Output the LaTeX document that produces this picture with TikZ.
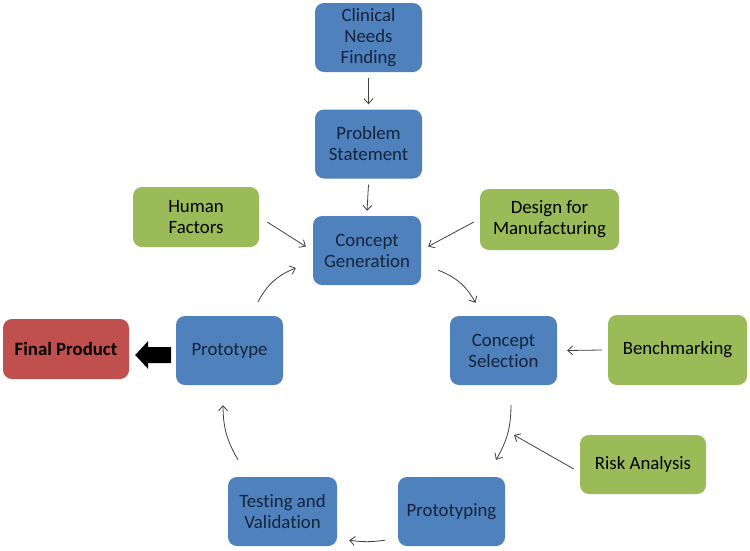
\documentclass[tikz,border=0pt]{standalone}
\usepackage{fontspec}
\setmainfont[Ligatures=NoCommon]{Carlito}
\usetikzlibrary{arrows.meta,calc}
\definecolor{bbox}{HTML}{4F81BD}
\definecolor{gbox}{HTML}{9BBB59}
\definecolor{rbox}{HTML}{C0504D}
\definecolor{btext}{HTML}{15243A}
\definecolor{arrgray}{HTML}{404040}
\begin{document}
\begin{tikzpicture}[x=1pt,y=-1pt,
  base/.style={rounded corners=9pt, align=center, inner sep=2pt, font=\fontsize{18.8}{21}\selectfont},
  bluebox/.style={base, fill=bbox, text=btext, minimum width=107pt, minimum height=69pt},
  greenbox/.style={base, fill=gbox, text=black},
  redbox/.style={base, fill=rbox, text=black},
  arr/.style={draw=arrgray, line width=0.8pt, -{Straight Barb[length=5pt,width=9pt]}}]
\fill[white] (0,0) rectangle (750,550);
\useasboundingbox (0,0) rectangle (750,550);

\node[bluebox] (cnf) at (368.5,37.5) {Clinical\\Needs\\Finding};
\node[bluebox] (ps) at (368.5,144) {Problem\\Statement};
\node[bluebox, minimum width=108pt] (cg) at (367,250.5) {Concept\\Generation};
\node[greenbox, minimum width=126pt, minimum height=60pt] (hf) at (196,217) {Human\\Factors};
\node[greenbox, minimum width=139pt, minimum height=61pt] (dfm) at (549.5,219.5) {Design for\\Manufacturing};
\node[bluebox] (cs) at (503.5,350.5) {Concept\\Selection};
\node[greenbox, minimum width=139pt, minimum height=70pt] (bm) at (677.5,350) {Benchmarking};
\node[bluebox] (proto) at (229.5,350.5) {Prototype};
\node[redbox, minimum width=126pt, minimum height=60pt, font=\fontsize{18.8}{21}\selectfont\bfseries] (fp) at (66,349) {Final Product};
\node[greenbox, minimum width=126pt, minimum height=59pt] (ra) at (643,464.5) {Risk Analysis};
\node[bluebox] (pt) at (451.5,511.5) {Prototyping};
\node[bluebox, minimum width=109pt] (tv) at (282.5,511.5) {Testing and\\Validation};

\coordinate (rtip) at (514,435);

\draw[arr] ($(cnf.south)+(0,6)$) -- ($(ps.north)+(0,-5)$);
\draw[arr] ($(ps.south)+(0,6)$) -- ($(cg.north)+(0,-5)$);
\draw[arr] ($(hf.east)+(8,5)$) -- ($(cg.west)+(-7,-4)$);
\draw[arr] ($(dfm.west)+(-6,2.5)$) -- ($(cg.east)+(7,-4)$);
\draw[arr] ($(cg.south east)+(17,-15)$) to[bend left=20] ($(cs.north)+(-28,-13)$);
\draw[arr] ($(bm.west)+(-6,0)$) -- ($(cs.east)+(10,0)$);
\draw[arr] ($(cs.south)+(7.5,20)$) to[bend left=15] ($(pt.north)+(44.5,-17)$);
\draw[arr] ($(ra.west)+(-6,4.5)$) -- (rtip);
\draw[arr] ($(pt.south west)+(-13,-6)$) to[bend left=8] ($(tv.south east)+(12,-6)$);
\draw[arr] ($(tv.north)+(-44.5,-17)$) to[bend left=15] ($(proto.south)+(-6.5,20)$);
\draw[arr] ($(proto.north)+(28.5,-14)$) to[bend left=20] ($(cg.west)+(-17,17.5)$);

\coordinate (fatip) at ($(fp.east)+(6,6)$);
\fill[black] (fatip) -- ++(13,-14) -- ++(0,6) -- ++(23,0) -- ++(0,16) -- ++(-23,0) -- ++(0,6) -- cycle;
\end{tikzpicture}
\end{document}
